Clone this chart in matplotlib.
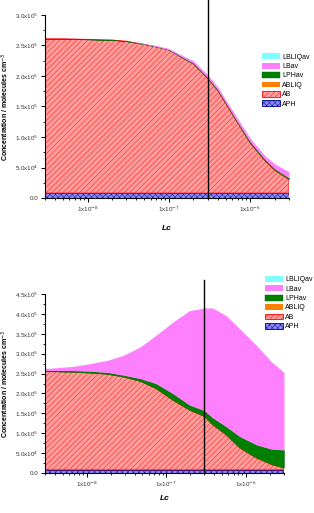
import numpy as np
import matplotlib
matplotlib.use("Agg")
import matplotlib.pyplot as plt
from matplotlib.ticker import FixedLocator, LogLocator, NullFormatter, FuncFormatter

plt.rcParams['font.family'] = ['Liberation Sans', 'DejaVu Sans']
plt.rcParams['hatch.linewidth'] = 0.3

SCALE = 1e5

# top panel: Lc grid and cumulative tops (units of 1e5 molecules cm^-3)
lc_top = [3e-9, 5e-9, 1e-8, 2e-8, 3e-8, 5e-8, 7e-8, 1e-7, 1.5e-7, 2e-7, 3e-7,
          4e-7, 5e-7, 7e-7, 1e-6, 1.5e-6, 2e-6, 3e-6]
top_aph = [0.08] * 18
top_ab = [2.61, 2.61, 2.60, 2.59, 2.57, 2.52, 2.48, 2.43, 2.29, 2.20, 1.96,
          1.76, 1.55, 1.23, 0.90, 0.62, 0.45, 0.30]
top_abliq = [2.61, 2.61, 2.60, 2.59, 2.57, 2.52, 2.48, 2.43, 2.29, 2.20, 1.96,
             1.76, 1.55, 1.23, 0.90, 0.62, 0.46, 0.31]
top_lphav = [2.61, 2.61, 2.60, 2.59, 2.57, 2.52, 2.48, 2.43, 2.30, 2.21, 1.97,
             1.77, 1.56, 1.24, 0.92, 0.64, 0.48, 0.33]
top_lbav = [2.61, 2.61, 2.60, 2.59, 2.57, 2.53, 2.50, 2.45, 2.33, 2.25, 2.02,
            1.82, 1.61, 1.30, 0.98, 0.70, 0.56, 0.43]
top_lbliq = top_lbav

# bottom panel
lc_bot = [3.0e-9, 6.8e-9, 1.1e-8, 1.8e-8, 2.9e-8, 4.7e-8, 7.4e-8, 1.2e-7,
          1.95e-7, 3.0e-7, 3.8e-7, 5.6e-7, 8.3e-7, 1.35e-6, 2.1e-6, 3.0e-6]
bot_aph = [0.08] * 16
bot_ab = [2.56, 2.54, 2.52, 2.49, 2.42, 2.31, 2.125, 1.83, 1.58, 1.42, 1.21,
          0.96, 0.63, 0.375, 0.21, 0.125]
bot_abliq = [2.56, 2.54, 2.52, 2.49, 2.42, 2.31, 2.13, 1.84, 1.59, 1.43, 1.22,
             0.97, 0.64, 0.385, 0.22, 0.135]
bot_lphav = [2.58, 2.575, 2.56, 2.53, 2.46, 2.375, 2.25, 2.0, 1.71, 1.57, 1.39,
             1.17, 0.92, 0.71, 0.60, 0.58]
bot_lbav = [2.625, 2.68, 2.75, 2.83, 2.96, 3.17, 3.46, 3.79, 4.08, 4.15, 4.15,
            3.96, 3.63, 3.21, 2.79, 2.53]
bot_lbliq = bot_lbav

labels = ['APH', 'AB', 'ABLIQ', 'LPHav', 'LBav', 'LBLIQav']
faces = ['#8888ff', '#ff9c9c', '#ff8000', '#008000', '#ff80ff', '#80ffff']
edges = ['#000080', '#ff0000', '#ff8000', '#006400', '#ff80ff', '#80ffff']
widths = [0.6, 0.6, 0.0, 0.3, 0.0, 0.0]
hatches = ['xxxxxx', '//////', None, None, None, None]


def yfmt(v, pos):
    if v <= 1e-9:
        return '0.0'
    e = int(np.floor(np.log10(v)))
    return r'%.1fx10$^{%d}$' % (v / 10 ** e, e)


def draw(ax, lc, series, ymax, line_top):
    x = np.array(lc)
    prev = np.zeros(len(lc))
    for vals, lab, fc, ec, lw, h in zip(series, labels, faces, edges, widths, hatches):
        cur = np.array(vals) * SCALE
        ax.fill_between(x, prev, cur, facecolor=fc, edgecolor=ec, hatch=h,
                        linewidth=lw, label=lab)
        prev = cur
    ax.axvline(3e-7, ymin=0, ymax=line_top, color='black', lw=1.0, clip_on=False)
    ax.set_xscale('log')
    ax.set_xlim(3e-9, 3e-6)
    ax.set_ylim(0, ymax)
    ax.xaxis.set_major_locator(FixedLocator([1e-8, 1e-7, 1e-6]))
    ax.xaxis.set_major_formatter(FuncFormatter(
        lambda v, p: r'1x10$^{%d}$' % round(np.log10(v))))
    ax.xaxis.set_minor_locator(LogLocator(base=10, subs=np.arange(2, 10)))
    ax.xaxis.set_minor_formatter(NullFormatter())
    ax.yaxis.set_major_locator(FixedLocator(np.arange(0, ymax + 1, 0.5 * SCALE)))
    ax.yaxis.set_minor_locator(FixedLocator(np.arange(0, ymax + 1, 0.25 * SCALE)))
    ax.yaxis.set_major_formatter(FuncFormatter(yfmt))
    ax.spines['top'].set_visible(False)
    ax.spines['right'].set_visible(False)
    for s in ('left', 'bottom'):
        ax.spines[s].set_linewidth(0.8)
    ax.tick_params(which='major', direction='out', length=3, width=0.7,
                   labelsize=4.5, colors='black', labelcolor='#333333', pad=2)
    ax.tick_params(which='minor', direction='out', length=1.6, width=0.6)
    ax.set_xlabel('Lc', fontsize=6, fontweight='bold', style='italic')
    ax.set_ylabel('Concentration / molecules cm$^{-3}$', fontsize=5,
                  fontweight='bold')


fig = plt.figure(figsize=(3.14, 5.13), dpi=100)
ax1 = fig.add_axes([45 / 314, 1 - 198 / 513, 244 / 314, 183 / 513])
ax2 = fig.add_axes([45 / 314, 1 - 473 / 513, 239 / 314, 179 / 513])

draw(ax1, lc_top, [top_aph, top_ab, top_abliq, top_lphav, top_lbav, top_lbliq],
     3.0 * SCALE, 1.085)
draw(ax2, lc_bot, [bot_aph, bot_ab, bot_abliq, bot_lphav, bot_lbav, bot_lbliq],
     4.5 * SCALE, 1.08)
ax1.xaxis.labelpad = 8
ax2.xaxis.labelpad = 4
ax1.yaxis.set_label_coords(-0.138, 0.5)
ax2.yaxis.set_label_coords(-0.141, 0.5)

for ax, anchor in ((ax1, (0.89, 0.79)), (ax2, (0.92, 1.10))):
    h, l = ax.get_legend_handles_labels()
    ax.legend(h[::-1], l[::-1], loc='upper left', bbox_to_anchor=anchor,
              frameon=False, fontsize=5, handlelength=2.6, handleheight=0.9,
              handletextpad=0.3, labelspacing=0.3, borderpad=0, borderaxespad=0)

fig.savefig('out.png', dpi=100)
